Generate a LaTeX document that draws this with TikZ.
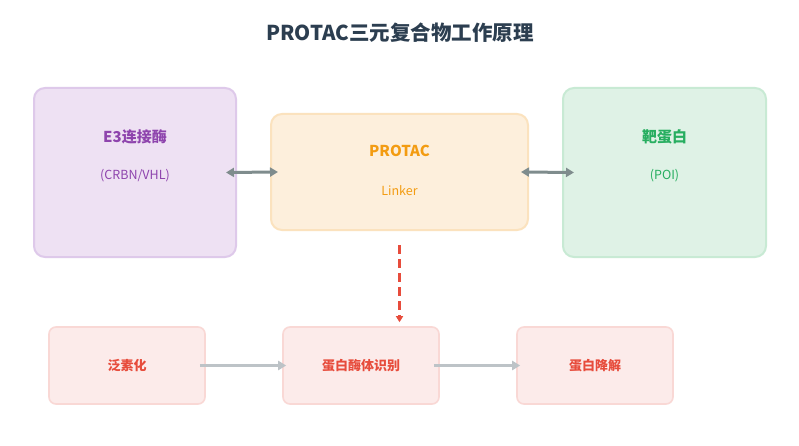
\documentclass[tikz,border=0pt]{standalone}
\usepackage{fontspec}
\setmainfont{Noto Sans CJK SC}
\usetikzlibrary{arrows.meta}
\definecolor{titlec}{HTML}{2C3E50}
\definecolor{purfill}{HTML}{EEE1F3}
\definecolor{purdraw}{HTML}{DEC9EA}
\definecolor{purtext}{HTML}{8E44AD}
\definecolor{orfill}{HTML}{FDEFDC}
\definecolor{ordraw}{HTML}{FBE2BE}
\definecolor{ortext}{HTML}{F39C12}
\definecolor{grfill}{HTML}{DFF2E6}
\definecolor{grdraw}{HTML}{C8EAD4}
\definecolor{grtext}{HTML}{27AE60}
\definecolor{rdfill}{HTML}{FCEBEA}
\definecolor{rddraw}{HTML}{F9D8D5}
\definecolor{rdtext}{HTML}{E74C3C}
\definecolor{darkgray}{HTML}{7F8C8D}
\definecolor{lightgray}{HTML}{BDC3C7}
\tikzset{
  bigbox/.style={rectangle, rounded corners=11pt, line width=2pt, inner sep=0pt},
  smallbox/.style={rectangle, rounded corners=7pt, line width=1.6pt, fill=rdfill, draw=rddraw,
    minimum width=156pt, minimum height=77pt, inner sep=0pt, font=\fontsize{13}{15}\selectfont\bfseries, text=rdtext},
  head/.style={font=\fontsize{15}{18}\selectfont\bfseries, inner sep=0pt},
  sub/.style={font=\fontsize{12.5}{15}\selectfont, inner sep=0pt},
  dbl/.style={{Triangle[length=8pt,width=9pt]}-{Triangle[length=8pt,width=9pt]}, line width=3pt, draw=darkgray},
  flow/.style={-{Triangle[length=8pt,width=9pt]}, line width=2.6pt, draw=lightgray},
  redflow/.style={-{Triangle[length=6pt,width=7pt]}, line width=2.4pt, draw=rdtext, dash pattern=on 9pt off 5pt}
}
\begin{document}
\begin{tikzpicture}[x=1pt,y=-1pt]
\useasboundingbox[fill=white] (0,0) rectangle (799,446);
\node[font=\fontsize{20.5}{24}\selectfont\bfseries, text=titlec] (title) at (400,33) {PROTAC三元复合物工作原理};

\node[bigbox, fill=purfill, draw=purdraw, minimum width=202pt, minimum height=169pt] (e3) at (135,172.5) {};
\node[bigbox, fill=orfill, draw=ordraw, minimum width=257pt, minimum height=116pt] (protac) at (399.5,172) {};
\node[bigbox, fill=grfill, draw=grdraw, minimum width=203pt, minimum height=169pt] (poi) at (664.5,172.5) {};

\node[head, text=purtext] (e3t) at (135,137) {E3连接酶};
\node[sub, text=purtext] (e3s) at (135,176) {(CRBN/VHL)};
\node[head, text=ortext] (prt) at (399.5,151) {PROTAC};
\node[sub, text=ortext] (prs) at (399.5,191) {Linker};
\node[head, text=grtext] (poit) at (664.5,137) {靶蛋白};
\node[sub, text=grtext] (pois) at (664.5,176) {(POI)};

\node[smallbox] (ub) at (127,365.5) {泛素化};
\node[smallbox] (rec) at (361,365.5) {蛋白酶体识别};
\node[smallbox] (deg) at (595,365.5) {蛋白降解};

\draw[dbl] ([xshift=-11pt]e3.east) -- ([xshift=8pt]protac.west);
\draw[dbl] ([xshift=-8pt]protac.east) -- ([xshift=12pt]poi.west);
\draw[redflow] ([yshift=-14pt]protac.south) -- ([yshift=4pt]rec.north -| protac.south);
\draw[flow] ([xshift=-6pt]ub.east) -- ([xshift=4pt]rec.west);
\draw[flow] ([xshift=-6pt]rec.east) -- ([xshift=4pt]deg.west);
\end{tikzpicture}
\end{document}
